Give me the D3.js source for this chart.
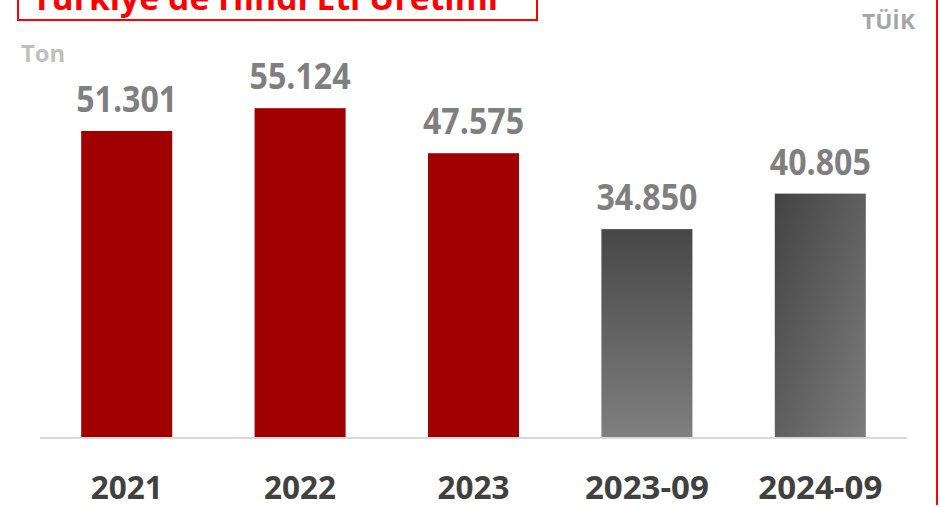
<!DOCTYPE html>
<html>
<head>
<meta charset="utf-8">
<script src="https://cdn.jsdelivr.net/npm/d3@7"></script>
<style>
  body { margin: 0; background: #fff; }
  text { font-family: "Open Sans", "DejaVu Sans", sans-serif; font-weight: bold; }
</style>
</head>
<body>
<script>
const w = 940, h = 507

// data (ton)
const categories = ["2021", "2022", "2023", "2023-09", "2024-09"]
const values = [51301, 55124, 47575, 34850, 40805]
const title = "Türkiye'de Hindi Eti Üretimi"
const unit = "Ton"
const source = "TÜİK"

const fmt = v => d3.format(",")(v).replace(/,/g, ".")

const svg = d3.select("body").append("svg")
    .attr("width", w)
    .attr("height", h)

const defs = svg.append("defs")
// partial-year bars are grey with a gradient
const g1 = defs.append("linearGradient").attr("id", "gv")
    .attr("x1", 0).attr("y1", 0).attr("x2", 0).attr("y2", 1)
g1.append("stop").attr("offset", "0%").attr("stop-color", "#474747")
g1.append("stop").attr("offset", "100%").attr("stop-color", "#7f7f7f")
const g2 = defs.append("linearGradient").attr("id", "gd")
    .attr("x1", 0).attr("y1", 0).attr("x2", 1).attr("y2", 1)
g2.append("stop").attr("offset", "0%").attr("stop-color", "#434343")
g2.append("stop").attr("offset", "100%").attr("stop-color", "#7c7c7c")

const x = d3.scaleBand()
    .domain(categories)
    .range([40, 907])
    .paddingInner(0.475)
    .paddingOuter(0.2375)

const y = d3.scaleLinear()
    .domain([0, 73260])
    .range([437, 0])

function barFill(c) {
    if (!c.includes("-")) return "#a00000"
    return c === "2023-09" ? "url(#gv)" : "url(#gd)"
}

svg.selectAll("rect.bar")
    .data(categories)
    .join("rect")
    .attr("class", "bar")
    .attr("x", d => x(d))
    .attr("width", x.bandwidth())
    .attr("y", (d, i) => y(values[i]))
    .attr("height", (d, i) => y(0) - y(values[i]))
    .attr("fill", d => barFill(d))

// baseline
svg.append("line")
    .attr("x1", 40).attr("x2", 907)
    .attr("y1", y(0) + 1).attr("y2", y(0) + 1)
    .attr("stroke", "#d9d9d9").attr("stroke-width", 2)

// value labels
svg.selectAll("text.val")
    .data(categories)
    .join("text")
    .attr("class", "val")
    .attr("x", d => x(d) + x.bandwidth() / 2)
    .attr("y", (d, i) => y(values[i]) - 19)
    .attr("text-anchor", "middle")
    .attr("fill", "#7f7f7f")
    .attr("font-size", 35)
    .attr("textLength", 101)
    .attr("lengthAdjust", "spacingAndGlyphs")
    .text((d, i) => fmt(values[i]))

// category labels
svg.selectAll("text.cat")
    .data(categories)
    .join("text")
    .attr("class", "cat")
    .attr("x", d => x(d) + x.bandwidth() / 2)
    .attr("y", 499)
    .attr("text-anchor", "middle")
    .attr("fill", "#404040")
    .attr("font-size", 32)
    .attr("textLength", d => d.length > 4 ? 124 : 72)
    .attr("lengthAdjust", "spacingAndGlyphs")
    .text(d => d)

// title box, cut at the top edge
svg.append("rect")
    .attr("x", 18).attr("y", -20)
    .attr("width", 519).attr("height", 40)
    .attr("fill", "none")
    .attr("stroke", "#ff0000").attr("stroke-width", 2)
svg.append("text")
    .attr("x", 32).attr("y", 10)
    .attr("fill", "#ff0000")
    .attr("font-family", "'Liberation Sans', Arial, sans-serif")
    .attr("font-size", 34)
    .attr("textLength", 466)
    .attr("lengthAdjust", "spacingAndGlyphs")
    .text(title)

svg.append("text")
    .attr("x", 21).attr("y", 62)
    .attr("fill", "#bfbfbf")
    .attr("font-size", 24)
    .attr("textLength", 44)
    .attr("lengthAdjust", "spacingAndGlyphs")
    .text(unit)

svg.append("text")
    .attr("x", 915).attr("y", 29)
    .attr("text-anchor", "end")
    .attr("fill", "#a6a6a6")
    .attr("font-size", 22)
    .attr("textLength", 53)
    .attr("lengthAdjust", "spacingAndGlyphs")
    .text(source)

// right frame edge
svg.append("line")
    .attr("x1", 937).attr("x2", 937)
    .attr("y1", 0).attr("y2", 505)
    .attr("stroke", "#ff0000").attr("stroke-width", 2)
</script>
</body>
</html>
